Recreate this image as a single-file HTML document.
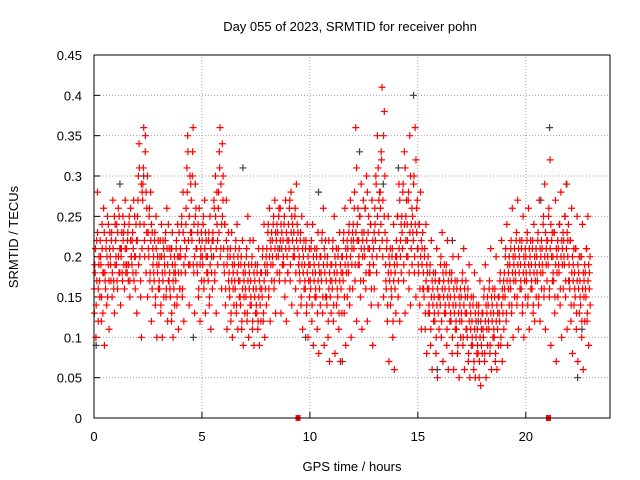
<!DOCTYPE html>
<html><head><meta charset="utf-8"><style>
body{margin:0;background:#fff}
svg{display:block;font-family:"Liberation Sans",sans-serif}
</style></head><body>
<svg id="c" width="640" height="480"></svg>
<script>
const title = "Day 055 of 2023, SRMTID for receiver pohn";
const xTicks = [0,5,10,15,20];
const yTicks = [0,0.05,0.1,0.15,0.2,0.25,0.3,0.35,0.4,0.45];
const yTickLabels = ["0","0.05","0.1","0.15","0.2","0.25","0.3","0.35","0.4","0.45"];
const binWidth = 0.25;
// values in hundredths of TECU, one string per 0.25 h bin starting at 0 h
const redBins = [
"13 18 10 22 28 16 20","15 20 12 24 18 26 9","17 21 14 25 19 11 23","19 22 15 27 17 13 24",
"20 24 16 26 18 21 14","21 18 25 23 16 27 19","19 22 17 24 15 26 20","22 18 27 20 16 24 13",
"25 30 34 20 15 10 28","29 36 22 33 18 26 15","21 25 17 28 12 23 19","18 22 14 25 10 20 16",
"17 20 13 24 10 22 15","19 22 15 26 12 17 21","16 20 12 23 10 18 14","18 21 14 24 11 20 16",
"20 24 15 28 12 22 18","26 31 35 22 14 19 29","23 30 36 18 13 25 21","19 23 15 26 12 21 17",
"20 24 16 27 13 22 18","18 22 14 25 11 20 16","22 27 17 30 13 24 19","28 33 36 21 16 25 30",
"19 24 14 27 11 21 17","16 20 12 23 10 18 14","17 21 13 24 11 19 15","15 19 11 22 9 17 13",
"16 20 12 25 10 18 14","15 19 11 22 9 17 13","14 18 11 21 9 16 12","16 20 12 24 10 18 14",
"19 23 15 26 12 21 17","20 24 16 27 13 22 18","21 25 17 26 13 23 19","20 24 15 27 12 22 18",
"22 26 17 28 14 24 20","21 25 16 29 13 23 19","18 22 14 25 11 20 16","17 21 13 24 10 19 15",
"17 21 12 24 9 19 15","16 20 11 23 8 18 14","18 22 13 26 9 20 15","15 19 10 22 7 17 13",
"17 21 12 25 8 19 14","16 20 11 23 7 18 13","18 22 13 26 9 20 15","19 23 14 27 10 21 16",
"22 26 17 36 12 24 19","20 25 15 29 11 22 17","21 26 16 30 12 23 18","19 24 14 27 9 21 16",
"24 30 18 35 14 27 21","26 33 41 20 15 38 23","17 21 12 25 7 19 14","16 20 10 24 6 18 13",
"20 25 15 29 12 22 18","23 28 17 33 13 25 20","22 27 16 35 14 24 19","23 29 18 36 15 26 21",
"19 24 14 28 11 21 16","16 20 11 24 8 18 13","14 18 9 22 6 16 12","13 17 8 21 5 15 11",
"15 19 10 23 7 17 13","14 18 9 22 6 16 12","13 17 8 20 6 15 11","12 16 8 20 5 14 10",
"13 17 9 21 6 15 11","11 15 7 19 5 13 9","10 14 6 18 5 12 8","9 13 5 17 4 11 8",
"11 15 7 19 5 13 9","12 16 8 21 6 14 10","11 15 7 20 6 13 9","13 17 9 22 7 15 11",
"16 20 12 24 9 18 14","17 21 13 26 10 19 15","18 22 14 27 11 20 16","17 21 13 25 10 19 15",
"18 22 14 26 11 20 16","17 21 13 24 12 19 15","18 22 14 27 12 20 16","19 24 15 29 11 21 17",
"20 25 15 32 9 22 17","18 23 13 27 7 20 15","19 24 14 28 10 21 16","20 25 15 29 11 22 17",
"17 22 12 26 8 19 14","16 21 11 25 7 18 13","15 20 10 24 6 17 12","16 21 12 25 9 18 14"];
// second receiver pass (denser core), same bins
const redBins2 = [
"16 19 21 14 17 23 12 19","17 22 19 15 21 13 18 23","18 16 22 20 15 24 17 21","20 17 23 18 21 16 25 19",
"22 19 17 23 20 25 18 21","20 23 17 22 19 24 21 18","21 18 23 19 25 17 22 20","19 23 21 17 25 20 18 22",
"22 27 19 31 24 17 29 21","27 31 24 20 35 28 23 30","23 20 26 18 22 24 16 21","20 17 23 15 21 19 18 22",
"19 16 22 14 20 18 17 21","20 18 23 16 21 19 24 17","18 15 21 13 19 17 16 20","19 17 22 15 20 18 23 16",
"21 18 25 16 23 19 22 20","24 21 28 33 19 25 30 23","27 22 33 19 24 20 29 26","21 18 24 16 22 19 20 23",
"22 19 25 17 21 23 20 18","20 17 23 15 19 21 18 22","23 20 26 18 25 21 28 22","26 23 31 20 29 24 34 27",
"21 18 24 16 22 19 20 23","18 15 21 13 17 19 16 20","19 16 22 14 18 20 17 21","17 14 20 12 16 18 15 19",
"18 15 21 13 17 19 16 22","17 14 20 12 16 18 15 19","16 13 19 12 15 17 14 18","18 15 21 13 17 19 16 20",
"21 18 24 16 20 22 19 23","22 19 25 17 21 23 20 24","23 20 26 18 22 24 21 19","22 19 25 17 21 23 20 18",
"24 21 27 19 23 25 22 20","23 20 26 18 22 24 21 19","20 17 23 15 19 21 18 22","19 16 22 14 18 20 17 21",
"19 16 22 14 18 20 17 21","18 15 21 13 17 19 16 20","20 17 23 15 19 21 18 22","17 14 20 12 16 18 15 19",
"19 16 22 14 18 20 17 21","18 15 21 13 17 19 16 20","20 17 23 15 19 21 18 22","21 18 24 16 20 22 19 23",
"24 21 28 19 23 31 22 26","22 19 25 17 21 23 20 27","23 20 26 18 22 28 21 25","21 18 24 16 20 22 19 23",
"26 22 29 20 25 31 23 28","28 24 32 22 27 35 25 30","19 16 22 14 18 20 17 21","18 15 21 12 17 19 16 20",
"22 19 25 17 21 27 20 24","25 21 29 19 24 31 22 27","24 20 28 18 23 30 21 26","25 22 30 20 24 32 23 27",
"21 18 24 16 20 22 19 23","18 15 21 13 17 19 16 20","16 13 19 11 15 17 14 18","15 12 18 10 14 16 13 17",
"17 14 20 12 16 18 15 19","16 13 19 11 15 17 14 18","15 12 18 10 14 16 13 17","14 11 17 9 13 15 12 16",
"15 12 18 10 14 16 13 17","13 10 16 8 12 14 11 15","12 9 15 7 11 13 10 14","11 8 14 7 10 12 9 13",
"13 10 16 8 12 14 11 15","14 11 17 9 13 15 12 16","13 10 16 8 12 14 11 15","15 12 18 10 14 16 13 17",
"18 15 21 13 17 19 16 20","19 16 22 14 18 20 17 21","20 17 23 15 19 21 18 22","19 16 22 14 18 20 17 21",
"20 17 23 15 19 21 18 22","19 16 22 14 18 20 17 21","20 17 23 15 19 21 18 22","21 18 25 16 20 23 19 22",
"22 19 26 16 21 24 20 23","20 17 23 15 19 21 18 22","21 18 24 16 20 22 19 23","22 19 25 17 21 23 20 24",
"19 16 22 14 18 20 17 21","18 15 21 13 17 19 16 20","17 14 20 12 16 18 15 19","18 15 21 13 17 19 16 20"];
const grayTimes = [0.1,1.2,2.3,3.6,4.6,6.9,8.6,9.8,10.4,11.5,12.3,13.4,14.1,14.8,15.9,16.6,17.8,19.3,20.7,21.1,21.9,22.4,22.6];
const grayValues = [0.09,0.29,0.3,0.21,0.1,0.31,0.21,0.1,0.28,0.07,0.33,0.29,0.31,0.4,0.06,0.22,0.12,0.16,0.27,0.36,0.29,0.05,0.11];
const markerTimes = [9.45,21.05];

const X0=94, X1=610, Y0=418, Y1=55, XMAX=23.9, YMAX=0.45;
const sx = t => X0 + t/XMAX*(X1-X0);
const sy = v => Y0 - v/YMAX*(Y0-Y1);
const svg = document.getElementById('c');
const NS="http://www.w3.org/2000/svg";
function mk(tag, attrs){const e=document.createElementNS(NS,tag);for(const k in attrs)e.setAttribute(k,attrs[k]);svg.appendChild(e);return e;}

yTicks.forEach((v,i)=>{
  if(i>0&&i<yTicks.length-1){const g=mk('line',{x1:X0,x2:X1,y1:sy(v),y2:sy(v),stroke:'#a0a0a0','stroke-dasharray':'1,2','stroke-width':1});
  
  }
  const tk=mk('line',{x1:X0,x2:X0+6,y1:sy(v),y2:sy(v),stroke:'#000'});
  
  
  const t=mk('text',{x:X0-12,y:sy(v)+5,'text-anchor':'end','font-size':13});
  t.textContent=yTickLabels[i];
  
  
});
xTicks.forEach(v=>{
  if(v>0){const g=mk('line',{x1:sx(v),x2:sx(v),y1:Y0,y2:Y1,stroke:'#a0a0a0','stroke-dasharray':'1,2'});
  
  }
  const tk=mk('line',{x1:sx(v),x2:sx(v),y1:Y0,y2:Y0-6,stroke:'#000'});
  
  
  const t=mk('text',{x:sx(v),y:Y0+23,'text-anchor':'middle','font-size':13});
  t.textContent=String(v);
  
  
});

function plus(x,y,color,name){
  const p=mk('path',{d:`M${x-3.5},${y}h7M${x},${y-3.5}v7`,stroke:color,'stroke-width':1.2,fill:'none'});
  
  
}
function drawBins(bins, phase){
  bins.forEach((s,b)=>{
    const vals=s.split(' ').map(Number);
    vals.forEach((v,j)=>{
      const t=b*binWidth + (j+phase)*binWidth/vals.length;
      plus(sx(t),sy(v/100),'#ff0000','srmtid-point');
    });
  });
}
grayTimes.forEach((t,i)=>plus(sx(t),sy(grayValues[i]),'#404040','srmtid-point-alt'));
drawBins(redBins,0.5);
drawBins(redBins2,0.2);
markerTimes.forEach(t=>{
  const r=mk('rect',{x:sx(t)-2.5,y:Y0-3,width:5,height:6,fill:'#ff0000'});
  
  
});

const fr=mk('rect',{x:X0,y:Y1,width:X1-X0,height:Y0-Y1,fill:'none',stroke:'#000'});


let t=mk('text',{x:350,y:31,'text-anchor':'middle','font-size':13});
t.textContent=title;


t=mk('text',{x:352,y:471,'text-anchor':'middle','font-size':13});
t.textContent="GPS time / hours";


t=mk('text',{x:18,y:237,'text-anchor':'middle','font-size':13,transform:'rotate(-90 18 237)'});
t.textContent="SRMTID / TECUs";


</script>
</body></html>
